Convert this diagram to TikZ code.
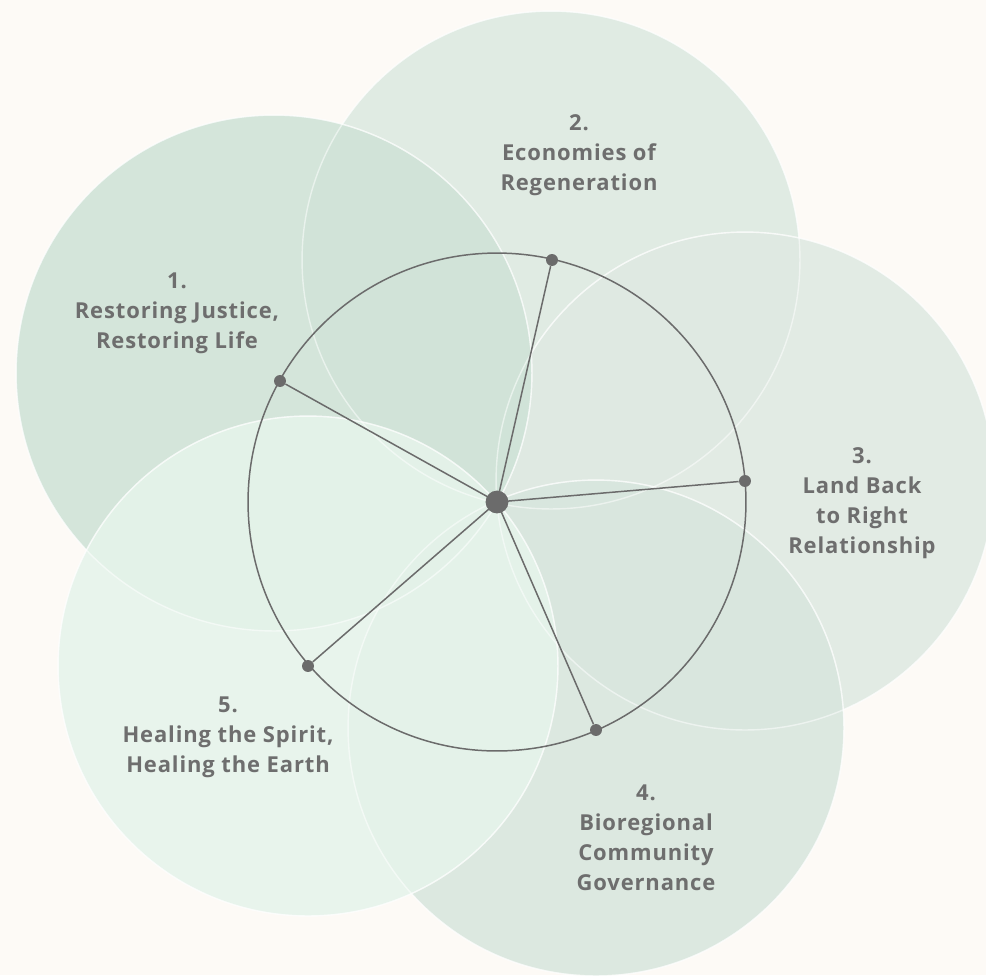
\documentclass[tikz,border=0pt]{standalone}
\usepackage{fontspec}
\setmainfont{Open Sans}
\newfontfamily\lblfont{Open Sans}[LetterSpace=4]
\definecolor{paper}{HTML}{FDFAF6}
\definecolor{linegray}{HTML}{6B6B6B}
\definecolor{txtgray}{HTML}{6E6E6E}
\definecolor{sageA}{HTML}{CFE3D7}
\definecolor{sageB}{HTML}{DCE9E1}
\definecolor{sageC}{HTML}{DFE9E2}
\definecolor{sageD}{HTML}{D8E6DE}
\definecolor{sageE}{HTML}{E6F4EB}
\tikzset{
	petal/.style={draw=white, line width=0.8pt, draw opacity=0.5, fill opacity=0.88},
	spoke/.style={draw=linegray, line width=0.85pt},
	dot/.style={circle, fill=linegray, inner sep=0pt, minimum size=6.8pt},
	hubdot/.style={circle, fill=linegray, inner sep=0pt, minimum size=13pt},
	lbl/.style={text=txtgray, align=center, font=\lblfont\fontsize{12.5}{17}\selectfont\bfseries}
}
\begin{document}
\begin{tikzpicture}[x=0.02cm, y=-0.02cm]
		
		% page
		\fill[paper] (0,0) rectangle (986,975);
		\useasboundingbox (0,0) rectangle (986,975);
		\clip (0,0) rectangle (986,975);
		
		% petals
		\fill[petal, fill=sageB] (551,260) circle[radius=4.98cm];
		\fill[petal, fill=sageC] (745,481) circle[radius=4.98cm];
		\fill[petal, fill=sageD] (596,728) circle[radius=4.96cm];
		\fill[petal, fill=sageA] (274,373) circle[radius=5.16cm];
		\fill[petal, fill=sageE] (308,666) circle[radius=5.0cm];
		\draw[petal, fill=none] (551,260) circle[radius=4.98cm];
		\draw[petal, fill=none] (745,481) circle[radius=4.98cm];
		\draw[petal, fill=none] (596,728) circle[radius=4.96cm];
		\draw[petal, fill=none] (274,373) circle[radius=5.16cm];
		\draw[petal, fill=none] (308,666) circle[radius=5.0cm];
		
		% ring
		\coordinate (hub) at (497,502);
		\draw[spoke] (hub) circle[radius=4.98cm];
		
		% points on the ring
		\node[dot] (d1) at (280,381) {};
		\node[dot] (d2) at (552,260) {};
		\node[dot] (d3) at (745,481) {};
		\node[dot] (d4) at (596,730) {};
		\node[dot] (d5) at (308,666) {};
		
		% spokes
		\draw[spoke] (hub) -- (d1);
		\draw[spoke] (hub) -- (d2);
		\draw[spoke] (hub) -- (d3);
		\draw[spoke] (hub) -- (d4);
		\draw[spoke] (hub) -- (d5);
		\node[hubdot] (h) at (hub) {};
		
		% labels
		\node[lbl] (l1) at (177,313) {1.\\Restoring Justice,\\Restoring Life};
		\node[lbl] (l2) at (579,155) {2.\\Economies of\\Regeneration};
		\node[lbl] (l3) at (862,503) {3.\\Land Back\\to Right\\Relationship};
		\node[lbl] (l4) at (646,838) {4.\\Bioregional\\Community\\Governance};
		\node[lbl] (l5) at (228,737) {5.\\Healing the Spirit,\\Healing the Earth};
		
	\end{tikzpicture}
\end{document}
